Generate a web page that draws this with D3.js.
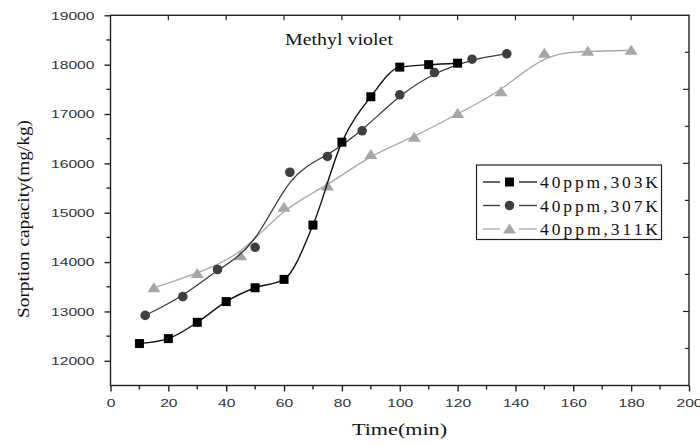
<!DOCTYPE html>
<html>
<head>
<meta charset="utf-8">
<script src="https://cdn.jsdelivr.net/npm/d3@7"></script>
<style>
  html, body { margin: 0; padding: 0; background: #fff; }
  svg { display: block; }
</style>
</head>
<body>
<svg id="chart" width="700" height="446"></svg>
<script>
// ---- data ----
const seriesNames = ["40ppm,303K", "40ppm,307K", "40ppm,311K"];
const time303 = [10, 20, 30, 40, 50, 60, 70, 80, 90, 100, 110, 120];
const cap303  = [12350, 12450, 12780, 13200, 13480, 13650, 14750, 16430, 17350, 17950, 18000, 18030];
const time307 = [12, 25, 37, 50, 62, 75, 87, 100, 112, 125, 137];
const cap307  = [12920, 13300, 13850, 14300, 15820, 16140, 16660, 17390, 17840, 18110, 18220];
const time311 = [15, 30, 45, 60, 75, 90, 105, 120, 135, 150, 165, 180];
const cap311  = [13480, 13770, 14130, 15110, 15540, 16180, 16530, 17010, 17450, 18230, 18270, 18290];
const xTicks = [0, 20, 40, 60, 80, 100, 120, 140, 160, 180, 200];
const yTicks = [12000, 13000, 14000, 15000, 16000, 17000, 18000, 19000];
const title = "Methyl violet";
const xLabel = "Time(min)";
const yLabel = "Sorption capacity(mg/kg)";

// ---- layout ----
const L = 110.5, R = 689, T = 15.3, B = 385.5;
const svg = d3.select("#chart");
const x = d3.scaleLinear().domain([0, 200]).range([L, R]);
const y = d3.scaleLinear().domain([11500, 19000]).range([B, T]);

const axisColor = "#222";
const tickFont = "'Liberation Sans', Arial, sans-serif";
const serif = "'Liberation Serif', 'Times New Roman', serif";
const digitW = 8.7;

// frame
svg.append("rect").attr("x", L).attr("y", T).attr("width", R - L).attr("height", B - T)
  .attr("fill", "none").attr("stroke", axisColor).attr("stroke-width", 1.4);

// bottom axis
const xAxis = d3.axisBottom(x).tickValues(xTicks).tickSize(6).tickPadding(5).tickFormat(d3.format("d"));
const gx = svg.append("g").attr("transform", `translate(0,${B})`).call(xAxis);
gx.select(".domain").remove();
gx.selectAll("line").attr("stroke", axisColor).attr("stroke-width", 1.4);
gx.selectAll("text").attr("font-family", tickFont).attr("font-size", 10.5).attr("fill", "#333")
  .attr("y", 21.5).attr("dy", null)
  .attr("textLength", d => String(d).length * digitW).attr("lengthAdjust", "spacingAndGlyphs");
// minor bottom ticks
const xMinor = d3.range(10, 200, 20);
svg.append("g").selectAll("line").data(xMinor).join("line")
  .attr("x1", d => x(d)).attr("x2", d => x(d)).attr("y1", B).attr("y2", B + 4)
  .attr("stroke", axisColor).attr("stroke-width", 1.4);

// top ticks (inward)
svg.append("g").selectAll("line").data(xTicks.slice(1, -1)).join("line")
  .attr("x1", d => x(d)).attr("x2", d => x(d)).attr("y1", T).attr("y2", T + 5)
  .attr("stroke", axisColor).attr("stroke-width", 1.2);

// left axis
const yAxis = d3.axisLeft(y).tickValues(yTicks).tickSize(6).tickPadding(10).tickFormat(d3.format("d"));
const gy = svg.append("g").attr("transform", `translate(${L},0)`).call(yAxis);
gy.select(".domain").remove();
gy.selectAll("line").attr("stroke", axisColor).attr("stroke-width", 1.4);
gy.selectAll("text").attr("font-family", tickFont).attr("font-size", 10.5).attr("fill", "#333")
  .attr("dy", "0.36em")
  .attr("textLength", d => String(d).length * digitW).attr("lengthAdjust", "spacingAndGlyphs");
const yMinor = d3.range(12500, 19000, 1000);
svg.append("g").selectAll("line").data(yMinor).join("line")
  .attr("x1", L - 4).attr("x2", L).attr("y1", d => y(d)).attr("y2", d => y(d))
  .attr("stroke", axisColor).attr("stroke-width", 1.4);

// right ticks (inward)
const rTicks = [18250, 17500, 16750, 16000, 15250, 14500, 13750, 13000, 12250];
svg.append("g").selectAll("line").data(rTicks).join("line")
  .attr("x1", (d, i) => R - (i % 2 ? 6 : 4)).attr("x2", R).attr("y1", d => y(d)).attr("y2", d => y(d))
  .attr("stroke", axisColor).attr("stroke-width", 1.2);

// labels
svg.append("text").attr("x", 285).attr("y", 44.5).attr("font-family", serif).attr("font-size", 16.5)
  .attr("fill", "#111").attr("textLength", 108).attr("lengthAdjust", "spacingAndGlyphs").text(title);
svg.append("text").attr("x", 352).attr("y", 435).attr("font-family", serif).attr("font-size", 17)
  .attr("fill", "#111").attr("textLength", 95).attr("lengthAdjust", "spacingAndGlyphs").text(xLabel);
svg.append("text").attr("transform", `translate(29,318) rotate(-90)`)
  .attr("font-family", serif).attr("font-size", 17).attr("fill", "#111")
  .attr("textLength", 198).attr("lengthAdjust", "spacingAndGlyphs").text(yLabel);

// series
const series = [
  { name: seriesNames[0], xs: time303, ys: cap303, line: "#111", fill: "#000", shape: "square", curve: d3.curveMonotoneX, lw: 1.4 },
  { name: seriesNames[1], xs: time307, ys: cap307, line: "#3a3a3a", fill: "#3f3f3f", shape: "circle", curve: d3.curveBasis, lw: 1.3 },
  { name: seriesNames[2], xs: time311, ys: cap311, line: "#a8a8a8", fill: "#a6a6a6", shape: "triangle", curve: d3.curveBasis, lw: 1.3 }
];

function marker(g, shape, fill, cx, cy) {
  if (shape === "square") {
    g.append("rect").attr("x", cx - 4.5).attr("y", cy - 4.5).attr("width", 9).attr("height", 9).attr("fill", fill);
  } else if (shape === "circle") {
    g.append("circle").attr("cx", cx).attr("cy", cy).attr("r", 4.8).attr("fill", fill);
  } else {
    g.append("path").attr("d", `M${cx},${cy - 5.5}L${cx + 6.5},${cy + 4.5}L${cx - 6.5},${cy + 4.5}Z`).attr("fill", fill);
  }
}

[2, 1, 0].forEach(i => {
  const s = series[i];
  const pts = s.xs.map((t, k) => [t, s.ys[k]]);
  const line = d3.line().x(d => x(d[0])).y(d => y(d[1])).curve(s.curve);
  const g = svg.append("g");
  g.append("path").attr("d", line(pts)).attr("fill", "none").attr("stroke", s.line).attr("stroke-width", s.lw);
  pts.forEach(p => marker(g, s.shape, s.fill, x(p[0]), y(p[1])));
});

// legend
const lg = svg.append("g");
lg.append("rect").attr("x", 476.5).attr("y", 165).attr("width", 185).attr("height", 74.5)
  .attr("fill", "#fff").attr("stroke", "#222").attr("stroke-width", 1.2);
series.forEach((s, i) => {
  const cy = 182 + i * 23.5;
  lg.append("line").attr("x1", 483).attr("x2", 500).attr("y1", cy).attr("y2", cy).attr("stroke", s.line).attr("stroke-width", 1.3);
  lg.append("line").attr("x1", 519).attr("x2", 537).attr("y1", cy).attr("y2", cy).attr("stroke", s.line).attr("stroke-width", 1.3);
  marker(lg, s.shape, s.fill, 509.5, cy);
  lg.append("text").attr("x", 540).attr("y", cy + 6).attr("font-family", serif).attr("font-size", 17.5)
    .attr("fill", "#111").attr("textLength", 118).attr("lengthAdjust", "spacing").text(s.name);
});
</script>
</body>
</html>
